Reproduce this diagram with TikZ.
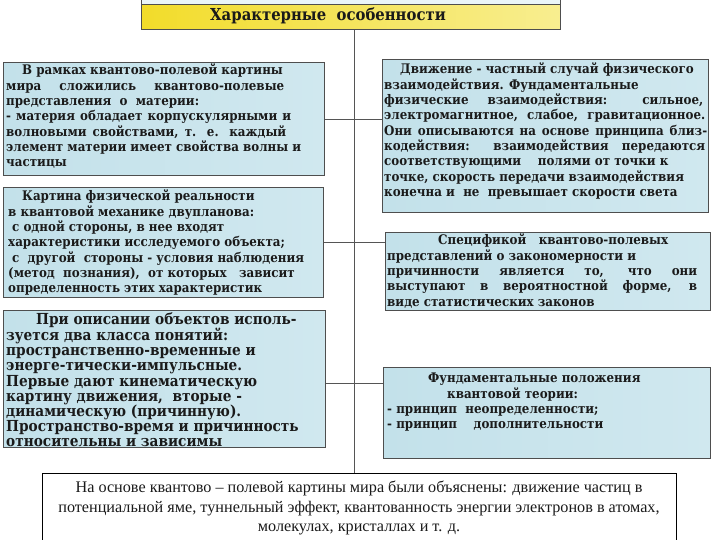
\documentclass[tikz,border=0pt]{standalone}
\usepackage{fontspec}
\setmainfont{DejaVu Serif}
\newfontfamily\boxf{DejaVu Serif}[FakeStretch=0.9]
\newfontfamily\btimes{Liberation Serif}
\definecolor{bordc}{HTML}{4E4E4E}
\definecolor{linec}{HTML}{555555}
\definecolor{boxl}{HTML}{C3E1EA}
\definecolor{boxm}{HTML}{EAF5F8}
\definecolor{boxr}{HTML}{D0E8EF}
\definecolor{txtc}{HTML}{1A1A1A}
\definecolor{yl}{HTML}{F2DC2A}
\definecolor{yr}{HTML}{F8EE90}
\newcommand\J[2]{\makebox[#1pt][s]{#2}}
\begin{document}
\begin{tikzpicture}[x=1pt,y=-1pt,
  box/.style={draw=bordc, line width=1.1pt, left color=boxl, middle color=boxm, right color=boxr, inner sep=0, anchor=north west},
  tx/.style={anchor=north west, inner sep=0, align=left, text=txtc, font=\boxf\fontsize{13.2}{15.3}\selectfont\bfseries},
  conn/.style={draw=linec, line width=1pt}]
\useasboundingbox (0,0) rectangle (720,540);
% header
\node[draw=bordc, line width=1pt, fill=boxm, inner sep=0, anchor=north west, minimum width=419pt, minimum height=6pt] (strip) at (141,-2) {};
\node[draw=bordc, line width=1.1pt, left color=yl, middle color=yl!80!white, right color=yr, inner sep=0, anchor=north west, minimum width=419pt, minimum height=25pt] (header) at (141,4) {};
\node[inner sep=0, text=txtc, font=\boxf\fontsize{16.5}{18}\selectfont\bfseries] (htext) at (328,16) {Характерные\ \ особенности};
% boxes
\node[box, minimum width=321pt, minimum height=113pt] (L1) at (3,62) {};
\node[box, minimum width=320pt, minimum height=110pt] (L2) at (3,187) {};
\node[box, minimum width=322pt, minimum height=137pt] (L3) at (3,310) {};
\node[box, minimum width=326pt, minimum height=153pt] (R1) at (382,59) {};
\node[box, minimum width=325pt, minimum height=78pt] (R2) at (385,232) {};
\node[box, minimum width=327pt, minimum height=91pt] (R3) at (383,367) {};
\node[draw=black, line width=1pt, fill=white, inner sep=0, anchor=north west, minimum width=634pt, minimum height=80pt] (bottom) at (42,473) {};
% connectors
\path (header.south) ++(3.5,0) coordinate (sTop);
\path (L3.east) ++(0,4.5) coordinate (c3);
\draw[conn] (sTop) -- (sTop |- bottom.north);
\draw[conn] (L1.east) -- (R1.west |- L1.east);
\draw[conn] (L2.east) -- (R2.west |- L2.east);
\draw[conn] (c3) -- (R3.west |- c3);
% texts
\node[tx] (t1) at (6,64) {\hspace*{16pt}В рамках квантово-полевой картины\\
\J{278}{мира сложились квантово-полевые}\\
представления\ \ о\ \ материи:\\
\J{285}{- материя обладает корпускулярными и}\\
\J{280}{волновыми свойствами, т. е. каждый}\\
\J{295}{элемент материи имеет свойства волны и}\\
частицы};
\node[tx] (t2) at (8,190) {\hspace*{14pt}Картина физической реальности\\
в квантовой механике двупланова:\\
\hspace*{4pt}с одной стороны, в нее входят\\
характеристики исследуемого объекта;\\
\hspace*{4pt}с\ \ другой\ \ стороны - условия наблюдения\\
(метод\ \ познания),\ \ от которых\ \ \ зависит\\
определенность этих характеристик};
\node[tx, font=\boxf\fontsize{15.2}{15.2}\selectfont\bfseries] (t3) at (6,312) {\hspace*{30pt}При описании объектов исполь-\\
зуется два класса понятий:\\
пространственно-временные и\\
энерге-тически-импульсные.\\
Первые дают кинематическую\\
картину движения,\ \ вторые -\\
динамическую (причинную).\\
Пространство-время и причинность\\
относительны и зависимы};
\node[tx] (t4) at (384,63) {\hspace*{16pt}Движение - частный случай физического\\
взаимодействия. Фундаментальные\\
\J{319}{физические взаимодействия: сильное,}\\
\J{321}{электромагнитное, слабое, гравитационное.}\\
\J{323}{Они описываются на основе принципа близ-}\\
\J{321}{кодействия: взаимодействия передаются}\\
соответствующими\ \ \ \ полями от точки к\\
точке, скорость передачи взаимодействия\\
конечна и\ \ не\ \ превышает скорости света};
\node[tx] (t5) at (387,234) {\hspace*{51pt}Спецификой\ \ \ квантово-полевых\\
представлений о закономерности и\\
\J{310}{причинности является то, что они}\\
\J{310}{выступают в вероятностной форме, в}\\
виде статистических законов};
\node[tx] (t6) at (387,373) {\hspace*{41pt}Фундаментальные положения\\
\hspace*{60pt}квантовой теории:\\
- принцип\ \ неопределенности;\\
- принцип\ \ \ \ дополнительности};
\node[anchor=north, inner sep=0, align=center, text=txtc, font=\btimes\fontsize{16.2}{19.5}\selectfont] (t7) at (359,481) {На основе квантово – полевой картины мира были объяснены: движение частиц в\\
потенциальной яме, туннельный эффект, квантованность энергии электронов в атомах,\\
молекулах, кристаллах и т. д.};
\end{tikzpicture}
\end{document}
